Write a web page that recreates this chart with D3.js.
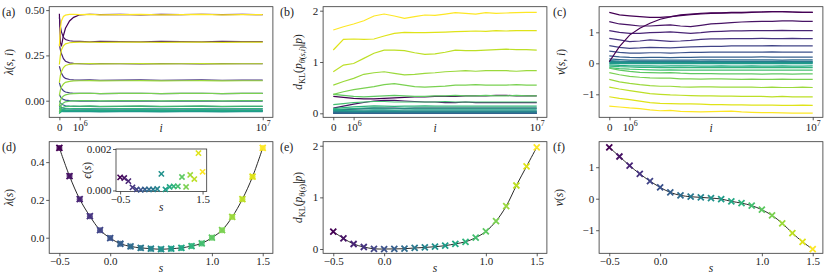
<!DOCTYPE html>
<html>
<head>
<meta charset="utf-8">
<script src="https://cdn.jsdelivr.net/npm/d3@7"></script>
<style>
    body { margin: 0; background: #fff; }
    svg, svg text, svg tspan { font-family: "Liberation Serif", "DejaVu Serif", serif !important; }
    svg text { fill: #222; }
</style>
</head>
<body>
<div id="fig"></div>
<script>
// ---------------- data ----------------
const sValues = [-0.5, -0.4, -0.3, -0.2, -0.1, 0.0, 0.1, 0.2, 0.3, 0.4, 0.5, 0.6, 0.7, 0.8, 0.9, 1.0, 1.1, 1.2, 1.3, 1.4, 1.5];

// bottom row: converged values per s
const lambdaS = [0.475, 0.326, 0.204, 0.114, 0.040, -0.002, -0.032, -0.046, -0.054, -0.058, -0.061, -0.058, -0.054, -0.044, -0.030, 0.000, 0.040, 0.110, 0.204, 0.323, 0.475];
const dklS = [0.335, 0.206, 0.097, 0.039, 0.004, 0.0, 0.002, 0.006, 0.02, 0.03, 0.045, 0.065, 0.10, 0.14, 0.22, 0.34, 0.54, 0.83, 1.23, 1.60, 1.97];
const vS = [1.63, 1.34, 1.05, 0.79, 0.56, 0.36, 0.20, 0.106, 0.063, 0.042, 0.02, -0.01, -0.085, -0.14, -0.22, -0.35, -0.53, -0.78, -1.09, -1.37, -1.60];
const epsS = [0.00063, 0.0006, 0.00045, 0.00015, 0.00005, 0.00003, 0.00005, 0.00005, 0.00005, 0.00007, 0.0008, 0.00005, 0.00017, 0.0002, 0.0002, 0.00065, 0.00017, 0.00075, 0.00055, 0.0018, 0.0009];

// top row: iteration samples (in millions)
const iA = [0, 0.05, 0.1, 0.2, 0.3, 0.5, 0.7, 1, 1.5, 2, 3, 4, 5, 6, 7, 8, 9, 10];
const iB = [0, 0.5, 1, 1.5, 2, 2.5, 3, 3.5, 4, 4.5, 5, 5.5, 6, 6.5, 7, 7.5, 8, 8.5, 9, 9.5, 10];

// (a) lambda(s, i), one run per s (sampled at iA)
const lambdaRuns = [
    [0.48, 0.32, 0.30, 0.36, 0.40, 0.44, 0.46, 0.474, 0.477, 0.475, 0.476, 0.474, 0.476, 0.475, 0.477, 0.475, 0.476, 0.475],
    [0.46, 0.41, 0.38, 0.35, 0.338, 0.331, 0.328, 0.327, 0.325, 0.327, 0.326, 0.325, 0.327, 0.326, 0.325, 0.327, 0.326, 0.326],
    [0.31, 0.28, 0.26, 0.232, 0.218, 0.209, 0.206, 0.205, 0.203, 0.205, 0.204, 0.203, 0.205, 0.204, 0.203, 0.205, 0.204, 0.204],
    [0.19, 0.17, 0.152, 0.132, 0.123, 0.117, 0.115, 0.114, 0.115, 0.113, 0.114, 0.115, 0.113, 0.114, 0.115, 0.113, 0.114, 0.114],
    [0.10, 0.08, 0.068, 0.055, 0.048, 0.043, 0.041, 0.040, 0.041, 0.039, 0.040, 0.041, 0.039, 0.040, 0.041, 0.039, 0.040, 0.040],
    [0.035, 0.022, 0.014, 0.007, 0.003, 0.0, -0.001, -0.002, -0.001, -0.003, -0.002, -0.001, -0.003, -0.002, -0.001, -0.003, -0.002, -0.002],
    [0.0, -0.012, -0.018, -0.024, -0.028, -0.030, -0.031, -0.032, -0.031, -0.033, -0.032, -0.031, -0.033, -0.032, -0.031, -0.033, -0.032, -0.032],
    [-0.02, -0.03, -0.036, -0.041, -0.043, -0.045, -0.046, -0.046, -0.045, -0.047, -0.046, -0.045, -0.047, -0.046, -0.045, -0.047, -0.046, -0.046],
    [-0.03, -0.04, -0.045, -0.05, -0.052, -0.053, -0.054, -0.054, -0.053, -0.055, -0.054, -0.053, -0.055, -0.054, -0.053, -0.055, -0.054, -0.054],
    [-0.04, -0.048, -0.052, -0.055, -0.057, -0.058, -0.058, -0.058, -0.057, -0.059, -0.058, -0.057, -0.059, -0.058, -0.057, -0.059, -0.058, -0.058],
    [-0.05, -0.055, -0.058, -0.06, -0.061, -0.061, -0.061, -0.061, -0.06, -0.062, -0.061, -0.06, -0.062, -0.061, -0.06, -0.062, -0.061, -0.061],
    [-0.065, -0.062, -0.06, -0.059, -0.058, -0.058, -0.058, -0.058, -0.057, -0.059, -0.058, -0.057, -0.059, -0.058, -0.057, -0.059, -0.058, -0.058],
    [-0.07, -0.063, -0.059, -0.056, -0.055, -0.054, -0.054, -0.054, -0.053, -0.055, -0.054, -0.053, -0.055, -0.054, -0.053, -0.055, -0.054, -0.054],
    [-0.07, -0.058, -0.052, -0.048, -0.046, -0.045, -0.044, -0.044, -0.043, -0.045, -0.044, -0.043, -0.045, -0.044, -0.043, -0.045, -0.044, -0.044],
    [-0.07, -0.05, -0.042, -0.036, -0.033, -0.031, -0.030, -0.030, -0.029, -0.031, -0.030, -0.029, -0.031, -0.030, -0.029, -0.031, -0.030, -0.030],
    [-0.06, -0.035, -0.022, -0.012, -0.006, -0.003, -0.001, 0.0, 0.001, -0.001, 0.0, 0.001, -0.001, 0.0, 0.001, -0.001, 0.0, 0.0],
    [-0.03, 0.0, 0.014, 0.026, 0.032, 0.037, 0.039, 0.040, 0.041, 0.039, 0.040, 0.041, 0.039, 0.040, 0.041, 0.039, 0.040, 0.040],
    [0.03, 0.06, 0.076, 0.092, 0.101, 0.107, 0.109, 0.110, 0.111, 0.109, 0.110, 0.111, 0.109, 0.110, 0.111, 0.109, 0.110, 0.110],
    [0.10, 0.14, 0.16, 0.183, 0.194, 0.201, 0.203, 0.204, 0.205, 0.203, 0.204, 0.205, 0.203, 0.204, 0.205, 0.203, 0.204, 0.204],
    [0.20, 0.25, 0.28, 0.303, 0.314, 0.32, 0.322, 0.323, 0.324, 0.322, 0.323, 0.324, 0.322, 0.323, 0.324, 0.322, 0.323, 0.323],
    [0.30, 0.40, 0.44, 0.465, 0.472, 0.476, 0.476, 0.475, 0.476, 0.474, 0.475, 0.476, 0.474, 0.475, 0.476, 0.474, 0.475, 0.475]
];

// (b) d_KL(p_theta(s,i) | p), sampled at iB
const dklRuns = [
    [0.33, 0.31, 0.29, 0.28, 0.28, 0.29, 0.30, 0.31, 0.32, 0.32, 0.33, 0.33, 0.33, 0.34, 0.34, 0.34, 0.35, 0.35, 0.34, 0.34, 0.34],
    [0.10, 0.14, 0.18, 0.21, 0.24, 0.25, 0.25, 0.24, 0.23, 0.22, 0.22, 0.21, 0.21, 0.22, 0.21, 0.21, 0.21, 0.21, 0.21, 0.21, 0.21],
    [0.06, 0.07, 0.08, 0.09, 0.10, 0.10, 0.10, 0.09, 0.10, 0.10, 0.10, 0.10, 0.10, 0.10, 0.10, 0.10, 0.10, 0.10, 0.10, 0.10, 0.10],
    [0.03, 0.03, 0.04, 0.04, 0.04, 0.045, 0.04, 0.04, 0.04, 0.04, 0.04, 0.04, 0.04, 0.04, 0.04, 0.04, 0.04, 0.04, 0.04, 0.04, 0.04],
    [0.01, 0.01, 0.005, 0.005, 0.005, 0.005, 0.005, 0.005, 0.005, 0.005, 0.005, 0.005, 0.005, 0.005, 0.005, 0.005, 0.005, 0.005, 0.005, 0.005, 0.005],
    [0.0, 0.0, 0.0, 0.0, 0.0, 0.0, 0.0, 0.0, 0.0, 0.0, 0.0, 0.0, 0.0, 0.0, 0.0, 0.0, 0.0, 0.0, 0.0, 0.0, 0.0],
    [0.005, 0.003, 0.003, 0.002, 0.002, 0.002, 0.002, 0.002, 0.002, 0.002, 0.002, 0.002, 0.002, 0.002, 0.002, 0.002, 0.002, 0.002, 0.002, 0.002, 0.002],
    [0.012, 0.01, 0.008, 0.007, 0.006, 0.006, 0.006, 0.006, 0.006, 0.006, 0.006, 0.006, 0.006, 0.006, 0.006, 0.006, 0.006, 0.006, 0.006, 0.006, 0.006],
    [0.03, 0.025, 0.022, 0.02, 0.02, 0.02, 0.021, 0.02, 0.02, 0.02, 0.02, 0.02, 0.02, 0.02, 0.02, 0.02, 0.02, 0.02, 0.02, 0.02, 0.02],
    [0.04, 0.035, 0.03, 0.03, 0.031, 0.03, 0.03, 0.03, 0.03, 0.03, 0.03, 0.03, 0.03, 0.03, 0.03, 0.03, 0.03, 0.03, 0.03, 0.03, 0.03],
    [0.05, 0.045, 0.042, 0.044, 0.046, 0.045, 0.044, 0.045, 0.045, 0.045, 0.045, 0.045, 0.045, 0.045, 0.045, 0.045, 0.045, 0.045, 0.045, 0.045, 0.045],
    [0.06, 0.058, 0.06, 0.064, 0.066, 0.065, 0.063, 0.064, 0.065, 0.066, 0.065, 0.065, 0.065, 0.065, 0.065, 0.065, 0.065, 0.065, 0.065, 0.065, 0.065],
    [0.07, 0.08, 0.09, 0.10, 0.105, 0.10, 0.098, 0.10, 0.10, 0.10, 0.10, 0.10, 0.10, 0.10, 0.10, 0.10, 0.10, 0.10, 0.10, 0.10, 0.10],
    [0.09, 0.11, 0.125, 0.135, 0.145, 0.14, 0.135, 0.14, 0.14, 0.145, 0.14, 0.14, 0.14, 0.14, 0.14, 0.14, 0.14, 0.14, 0.14, 0.14, 0.14],
    [0.17, 0.19, 0.21, 0.22, 0.23, 0.23, 0.22, 0.22, 0.22, 0.22, 0.22, 0.23, 0.22, 0.22, 0.22, 0.22, 0.22, 0.22, 0.22, 0.22, 0.22],
    [0.37, 0.35, 0.33, 0.32, 0.33, 0.34, 0.35, 0.34, 0.33, 0.33, 0.34, 0.34, 0.35, 0.34, 0.34, 0.35, 0.34, 0.34, 0.35, 0.34, 0.34],
    [0.37, 0.42, 0.46, 0.49, 0.52, 0.56, 0.58, 0.55, 0.52, 0.51, 0.52, 0.53, 0.55, 0.55, 0.56, 0.55, 0.55, 0.55, 0.56, 0.55, 0.55],
    [0.55, 0.62, 0.68, 0.76, 0.79, 0.81, 0.78, 0.75, 0.76, 0.78, 0.79, 0.81, 0.82, 0.83, 0.82, 0.83, 0.83, 0.83, 0.82, 0.83, 0.83],
    [0.81, 0.94, 0.97, 1.07, 1.17, 1.23, 1.23, 1.22, 1.18, 1.15, 1.16, 1.19, 1.23, 1.22, 1.22, 1.23, 1.24, 1.25, 1.24, 1.24, 1.23],
    [1.234, 1.442, 1.448, 1.442, 1.448, 1.506, 1.558, 1.578, 1.571, 1.571, 1.578, 1.584, 1.591, 1.597, 1.604, 1.597, 1.61, 1.604, 1.61, 1.61, 1.61],
    [1.623, 1.688, 1.74, 1.805, 1.896, 1.935, 1.896, 1.85, 1.883, 1.916, 1.909, 1.935, 1.961, 1.948, 1.935, 1.961, 1.948, 1.955, 1.961, 1.968, 1.968]
];

// (c) v(s, i), sampled at iB
const vRuns = [
    [1.645, 1.56, 1.53, 1.505, 1.48, 1.48, 1.505, 1.54, 1.57, 1.59, 1.61, 1.62, 1.63, 1.63, 1.645, 1.655, 1.667, 1.667, 1.655, 1.645, 1.645],
    [1.344, 1.269, 1.237, 1.204, 1.204, 1.226, 1.237, 1.204, 1.183, 1.226, 1.269, 1.29, 1.312, 1.333, 1.344, 1.355, 1.355, 1.366, 1.366, 1.355, 1.355],
    [1.054, 1.0, 0.968, 0.968, 0.989, 1.0, 1.011, 0.989, 0.968, 0.989, 1.022, 1.032, 1.043, 1.043, 1.054, 1.054, 1.054, 1.065, 1.054, 1.054, 1.054],
    [0.806, 0.753, 0.699, 0.72, 0.753, 0.731, 0.71, 0.72, 0.742, 0.774, 0.785, 0.785, 0.796, 0.796, 0.796, 0.806, 0.796, 0.796, 0.806, 0.796, 0.796],
    [0.57, 0.516, 0.484, 0.495, 0.516, 0.505, 0.495, 0.516, 0.527, 0.538, 0.548, 0.548, 0.559, 0.559, 0.559, 0.559, 0.57, 0.559, 0.559, 0.559, 0.559],
    [0.39, 0.35, 0.33, 0.33, 0.34, 0.34, 0.33, 0.34, 0.35, 0.35, 0.36, 0.36, 0.36, 0.36, 0.36, 0.36, 0.37, 0.36, 0.36, 0.36, 0.36],
    [0.24, 0.21, 0.19, 0.18, 0.19, 0.19, 0.18, 0.19, 0.19, 0.2, 0.2, 0.2, 0.2, 0.2, 0.2, 0.21, 0.2, 0.2, 0.2, 0.2, 0.2],
    [0.14, 0.12, 0.1, 0.1, 0.1, 0.1, 0.1, 0.1, 0.1, 0.11, 0.11, 0.11, 0.11, 0.11, 0.11, 0.11, 0.11, 0.1, 0.11, 0.11, 0.11],
    [0.09, 0.07, 0.06, 0.06, 0.06, 0.06, 0.06, 0.06, 0.06, 0.06, 0.07, 0.06, 0.06, 0.06, 0.06, 0.06, 0.06, 0.06, 0.06, 0.06, 0.06],
    [0.06, 0.05, 0.04, 0.04, 0.04, 0.04, 0.04, 0.04, 0.05, 0.04, 0.04, 0.04, 0.04, 0.04, 0.04, 0.04, 0.04, 0.04, 0.04, 0.04, 0.04],
    [0.03, 0.03, 0.02, 0.02, 0.02, 0.02, 0.02, 0.02, 0.02, 0.02, 0.02, 0.02, 0.02, 0.02, 0.02, 0.02, 0.02, 0.02, 0.02, 0.02, 0.02],
    [0.0, -0.01, -0.01, -0.01, -0.01, -0.01, -0.01, -0.01, -0.01, -0.01, -0.01, -0.01, -0.01, -0.01, -0.01, -0.01, -0.01, -0.01, -0.01, -0.01, -0.01],
    [-0.05, -0.07, -0.08, -0.08, -0.08, -0.09, -0.08, -0.08, -0.08, -0.09, -0.09, -0.08, -0.09, -0.09, -0.08, -0.09, -0.09, -0.08, -0.09, -0.09, -0.085],
    [-0.09, -0.11, -0.12, -0.13, -0.13, -0.14, -0.14, -0.13, -0.14, -0.14, -0.14, -0.14, -0.14, -0.14, -0.14, -0.14, -0.14, -0.14, -0.14, -0.14, -0.14],
    [-0.14, -0.17, -0.19, -0.2, -0.21, -0.22, -0.21, -0.22, -0.22, -0.22, -0.22, -0.22, -0.22, -0.22, -0.22, -0.22, -0.22, -0.22, -0.22, -0.22, -0.22],
    [-0.16, -0.22, -0.26, -0.29, -0.3, -0.31, -0.3, -0.32, -0.33, -0.33, -0.33, -0.34, -0.34, -0.34, -0.34, -0.35, -0.34, -0.34, -0.35, -0.34, -0.344],
    [-0.3, -0.37, -0.42, -0.45, -0.47, -0.48, -0.48, -0.5, -0.5, -0.51, -0.5, -0.5, -0.51, -0.52, -0.51, -0.52, -0.52, -0.51, -0.52, -0.52, -0.52],
    [-0.52, -0.6, -0.65, -0.69, -0.72, -0.74, -0.74, -0.76, -0.77, -0.76, -0.76, -0.77, -0.77, -0.77, -0.77, -0.78, -0.77, -0.78, -0.78, -0.77, -0.78],
    [-0.77, -0.83, -0.88, -0.93, -0.98, -1.0, -1.02, -1.03, -1.04, -1.05, -1.05, -1.06, -1.06, -1.07, -1.07, -1.07, -1.08, -1.07, -1.08, -1.08, -1.08],
    [-1.08, -1.13, -1.17, -1.22, -1.27, -1.29, -1.3, -1.31, -1.31, -1.32, -1.33, -1.33, -1.34, -1.34, -1.35, -1.35, -1.35, -1.36, -1.36, -1.35, -1.36],
    [-1.38, -1.41, -1.44, -1.46, -1.5, -1.53, -1.52, -1.55, -1.56, -1.57, -1.56, -1.55, -1.54, -1.57, -1.58, -1.59, -1.59, -1.6, -1.61, -1.61, -1.61]
];
// extra s = -0.5 run in (c) started from v = 0
const vRunFromZero = [0.05, 0.54, 0.91, 1.13, 1.29, 1.42, 1.5, 1.56, 1.59, 1.61, 1.63, 1.63, 1.645, 1.645, 1.655, 1.655, 1.667, 1.667, 1.655, 1.645, 1.645];

// ticks
const iTicks = [0, 1, 10];              // millions
const iTickExp = [null, 6, 7];
const sTicks = [-0.5, 0.0, 1.0, 1.5];
const lambdaTicks = [0, 0.25, 0.5];
const lambdaSTicks = [0, 0.2, 0.4];
const dklTicks = [0, 1, 2];
const vTicks = [-1, 0, 1];
const epsTicks = [0, 0.002];
const insetSTicks = [-0.5, 1.5];

// ---------------- layout ----------------
const W = 830, H = 277;
const cols = [[49.2, 272.9], [323.1, 546.9], [599.1, 822.9]];
const rows = [[6.7, 117.3], [141.7, 253.3]];
const tickBase = [131.5, 265];     // baseline of x tick labels per row
const FS = 11;
const FONT = '"Liberation Serif", "DejaVu Serif", serif';

const svg = d3.select('#fig').append('svg')
    .attr('width', W)
    .attr('height', H)
    .attr('font-family', FONT);

const color = k => d3.interpolateViridis(k / (sValues.length - 1));

// rich text: parts = [text, italic, level] ; level 1 = subscript, -1 = superscript
function rich(textSel, parts, size) {
    let prev = 0;
    const off = l => l === 1 ? 3.2 : (l === -1 ? -5 : 0);
    textSel.attr('font-family', FONT);
    parts.forEach(p => {
        const lvl = p[2] || 0;
        textSel.append('tspan')
            .attr('dy', off(lvl) - off(prev))
            .attr('font-size', lvl ? size * 0.72 : size)
            .attr('font-style', p[1] ? 'italic' : 'normal')
            .text(p[0]);
        prev = lvl;
    });
}

let clipId = 0;
function panel(col, row, xDomain, yDomain) {
    const x = d3.scaleLinear().domain(xDomain).range(cols[col]);
    const y = d3.scaleLinear().domain(yDomain).range([rows[row][1], rows[row][0]]);
    const id = 'clip' + (clipId++);
    svg.append('clipPath').attr('id', id).append('rect')
        .attr('x', cols[col][0]).attr('y', rows[row][0])
        .attr('width', cols[col][1] - cols[col][0])
        .attr('height', rows[row][1] - rows[row][0]);
    const g = svg.append('g');
    const plot = g.append('g').attr('clip-path', 'url(#' + id + ')');
    return { x, y, g, plot, col, row };
}

function styleAxis(ax) {
    ax.attr('font-family', FONT).attr('font-size', FS);
    ax.select('.domain').remove();
    ax.selectAll('line').attr('stroke', '#333').attr('stroke-width', 0.8);
    ax.selectAll('text').attr('fill', '#222').attr('font-family', FONT);
}

function yAxis(p, ticks, fmt) {
    const ax = p.g.append('g')
        .attr('transform', 'translate(' + cols[p.col][0] + ',0)')
        .call(d3.axisLeft(p.y).tickValues(ticks).tickFormat(fmt).tickSize(3).tickPadding(1.8).tickSizeOuter(0));
    styleAxis(ax);
}

function xAxis(p, ticks, fmt) {
    const ax = p.g.append('g')
        .attr('transform', 'translate(0,' + rows[p.row][1] + ')')
        .call(d3.axisBottom(p.x).tickValues(ticks).tickFormat(fmt).tickSize(3).tickSizeOuter(0));
    styleAxis(ax);
    ax.selectAll('text')
        .attr('y', tickBase[p.row] - rows[p.row][1]).attr('dy', 0);
    return ax;
}

function iAxis(p) {
    const ax = xAxis(p, iTicks, () => '');
    ax.selectAll('.tick text').each(function (d, k) {
        const t = d3.select(this);
        if (iTickExp[k] === null) rich(t, [['0', false]], FS);
        else rich(t, [['10', false], [String(iTickExp[k]), false, -1]], FS);
    });
}

function frame(p) {
    p.g.append('rect')
        .attr('x', cols[p.col][0]).attr('y', rows[p.row][0])
        .attr('width', cols[p.col][1] - cols[p.col][0])
        .attr('height', rows[p.row][1] - rows[p.row][0])
        .attr('fill', 'none').attr('stroke', '#333').attr('stroke-width', 0.8);
}

function yLabel(x, p, parts) {
    const cy = (rows[p.row][0] + rows[p.row][1]) / 2;
    const t = svg.append('text')
        .attr('transform', 'translate(' + x + ',' + cy + ') rotate(-90)')
        .attr('text-anchor', 'middle');
    rich(t, parts, 11.5);
}

function xLabel(p, parts, yBase) {
    const t = svg.append('text')
        .attr('x', (cols[p.col][0] + cols[p.col][1]) / 2)
        .attr('y', yBase)
        .attr('text-anchor', 'middle');
    rich(t, parts, 11.5);
}

function panelTag(x, y, s) {
    svg.append('text').attr('x', x).attr('y', y)
        .attr('font-family', FONT).attr('font-size', 12).text(s);
}

const xMark = r => 'M' + (-r) + ',' + (-r) + 'L' + r + ',' + r + 'M' + (-r) + ',' + r + 'L' + r + ',' + (-r);

function runLines(p, xs, runs, width) {
    const line = d3.line().x((d, j) => p.x(xs[j])).y(d => p.y(d));
    p.plot.selectAll(null)
        .data(runs)
        .enter()
        .append('path')
        .attr('d', d => line(d))
        .attr('fill', 'none')
        .attr('stroke', (d, k) => color(k))
        .attr('stroke-width', width);
}

function sCurve(p, vals, r, circles) {
    const line = d3.line().curve(d3.curveCatmullRom).x((d, j) => p.x(sValues[j])).y(d => p.y(d));
    p.plot.append('path')
        .attr('d', line(vals))
        .attr('fill', 'none').attr('stroke', '#111').attr('stroke-width', 0.9);
    if (circles) {
        p.plot.selectAll(null).data(vals).enter().append('circle')
            .attr('cx', (d, j) => p.x(sValues[j])).attr('cy', d => p.y(d))
            .attr('r', 3).attr('fill', (d, j) => color(j)).attr('opacity', 0.85);
    }
    p.plot.selectAll(null).data(vals).enter().append('path')
        .attr('transform', (d, j) => 'translate(' + p.x(sValues[j]) + ',' + p.y(d) + ')')
        .attr('d', xMark(r))
        .attr('stroke', (d, j) => color(j))
        .attr('stroke-width', 1.8)
        .attr('fill', 'none');
}

const iDom = [-0.5, 10.5];
const sDom = [-0.6, 1.6];

// ---------------- (a) ----------------
const pa = panel(0, 0, iDom, [-0.0916, 0.5188]);
runLines(pa, iA, lambdaRuns, 1.2);
frame(pa);
yAxis(pa, lambdaTicks, d3.format('.2f'));
iAxis(pa);
yLabel(13, pa, [['λ', true], ['(', false], ['s', true], [', ', false], ['i', true], [')', false]]);
xLabel(pa, [['i', true]], 131.5);
panelTag(2, 15.5, '(a)');

// ---------------- (b) ----------------
const pb = panel(1, 0, iDom, [-0.078, 2.078]);
runLines(pb, iB, dklRuns, 1.2);
frame(pb);
yAxis(pb, dklTicks, d3.format('d'));
iAxis(pb);
yLabel(302, pb, [['d', true], ['KL', false, 1], ['(', false], ['p', true], ['θ', true, 1], ['(', false, 1], ['s', true, 1], [',', false, 1], ['i', true, 1], [')', false, 1], ['|', false], ['p', true], [')', false]]);
xLabel(pb, [['i', true]], 131.5);
panelTag(280, 15.5, '(b)');

// ---------------- (c) ----------------
const pc = panel(2, 0, iDom, [-1.742, 1.826]);
runLines(pc, iB, vRuns, 1.2);
pc.plot.append('path')
    .attr('d', d3.line().x((d, j) => pc.x(iB[j])).y(d => pc.y(d))(vRunFromZero))
    .attr('fill', 'none').attr('stroke', color(0)).attr('stroke-width', 1.2);
frame(pc);
yAxis(pc, vTicks, d3.format('d'));
iAxis(pc);
yLabel(565, pc, [['v', true], ['(', false], ['s', true], [', ', false], ['i', true], [')', false]]);
xLabel(pc, [['i', true]], 131.5);
panelTag(553, 15.5, '(c)');

// ---------------- (d) ----------------
const pd = panel(0, 1, sDom, [-0.0825, 0.508]);
sCurve(pd, lambdaS, 3, true);
frame(pd);
yAxis(pd, lambdaSTicks, d3.format('.1f'));
xAxis(pd, sTicks, d3.format('.1f'));
yLabel(13, pd, [['λ', true], ['(', false], ['s', true], [')', false]]);
xLabel(pd, [['s', true]], 271.5);
panelTag(2, 151, '(d)');

// inset of (d)
const inset = { x0: 116, x1: 206.7, y0: 149, y1: 191.5 };
const ix = d3.scaleLinear().domain(sDom).range([inset.x0, inset.x1]);
const iy = d3.scaleLinear().domain([-0.00005, 0.002]).range([inset.y1, inset.y0]);
const ig = svg.append('g');
ig.append('rect')
    .attr('x', inset.x0).attr('y', inset.y0)
    .attr('width', inset.x1 - inset.x0).attr('height', inset.y1 - inset.y0)
    .attr('fill', '#fff').attr('stroke', '#333').attr('stroke-width', 0.8);
ig.selectAll(null).data(epsS).enter().append('path')
    .attr('transform', (d, j) => 'translate(' + ix(sValues[j]) + ',' + iy(d) + ')')
    .attr('d', xMark(2.6))
    .attr('stroke', (d, j) => color(j))
    .attr('stroke-width', 1.6)
    .attr('fill', 'none');
const iyAx = ig.append('g')
    .attr('transform', 'translate(' + inset.x0 + ',0)')
    .call(d3.axisLeft(iy).tickValues(epsTicks).tickFormat(d3.format('.3f')).tickSize(3).tickPadding(1.5).tickSizeOuter(0));
styleAxis(iyAx);
const ixAx = ig.append('g')
    .attr('transform', 'translate(0,' + inset.y1 + ')')
    .call(d3.axisBottom(ix).tickValues(insetSTicks).tickFormat(d3.format('.1f')).tickSize(3).tickSizeOuter(0));
styleAxis(ixAx);
ixAx.selectAll('text').attr('y', 203 - inset.y1).attr('dy', 0);
const iyl = svg.append('text')
    .attr('transform', 'translate(91,' + ((inset.y0 + inset.y1) / 2) + ') rotate(-90)')
    .attr('text-anchor', 'middle');
rich(iyl, [['ϵ', true], ['(', false], ['s', true], [')', false]], 11.5);
const ixl = svg.append('text').attr('x', (inset.x0 + inset.x1) / 2).attr('y', 210.5).attr('text-anchor', 'middle');
rich(ixl, [['s', true]], 11.5);

// ---------------- (e) ----------------
const pe = panel(1, 1, sDom, [-0.083, 2.078]);
sCurve(pe, dklS, 3, false);
frame(pe);
yAxis(pe, dklTicks, d3.format('d'));
xAxis(pe, sTicks, d3.format('.1f'));
yLabel(302, pe, [['d', true], ['KL', false, 1], ['(', false], ['p', true], ['θ', true, 1], ['(', false, 1], ['s', true, 1], [')', false, 1], ['|', false], ['p', true], [')', false]]);
xLabel(pe, [['s', true]], 271.5);
panelTag(280, 151, '(e)');

// ---------------- (f) ----------------
const pf = panel(2, 1, sDom, [-1.733, 1.81]);
sCurve(pf, vS, 3, false);
frame(pf);
yAxis(pf, vTicks, d3.format('d'));
xAxis(pf, sTicks, d3.format('.1f'));
yLabel(563, pf, [['v', true], ['(', false], ['s', true], [')', false]]);
xLabel(pf, [['s', true]], 271.5);
panelTag(553, 151, '(f)');
</script>
</body>
</html>
